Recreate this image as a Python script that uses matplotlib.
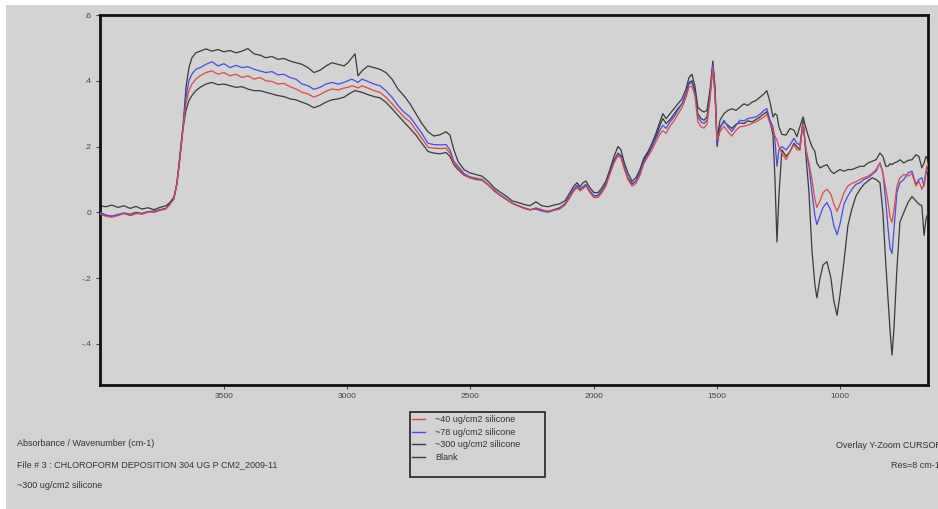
import matplotlib
matplotlib.use("Agg")
import matplotlib.pyplot as plt
from matplotlib.patches import Rectangle
from matplotlib.lines import Line2D

plt.rcParams['font.family'] = ['Liberation Sans', 'DejaVu Sans']

# ---------------- data ----------------
wavenumber = [
    4003, 3979, 3955, 3930, 3906, 3881, 3857, 3833, 3808, 3784, 3760, 3735,
    3719, 3703, 3691, 3679, 3666, 3654, 3642, 3630, 3614, 3597,
    3573, 3549, 3524, 3500, 3476, 3451, 3427, 3403, 3378, 3354, 3330, 3305, 3281, 3257, 3232, 3208, 3183, 3159, 3135, 3110, 3086, 3062, 3037,
    3013, 2997, 2981, 2968, 2956, 2940,
    2916, 2891, 2867, 2843, 2818, 2794, 2770, 2745, 2721, 2697, 2672, 2648, 2623, 2599,
    2583, 2567, 2550,
    2526, 2502, 2477, 2453, 2429, 2404, 2380, 2356, 2331, 2307, 2283, 2258, 2234, 2210, 2185, 2161, 2137,
    2116, 2096, 2080, 2067, 2055, 2043, 2031,
    2015, 1999, 1982, 1966, 1950, 1934, 1917, 1901,
    1889, 1877, 1861, 1844, 1828, 1812, 1796, 1779, 1763, 1747, 1731,
    1719, 1706, 1690, 1674, 1658, 1641, 1625, 1613, 1601, 1589, 1577, 1564, 1552, 1540, 1528, 1516, 1507, 1499,
    1487, 1471, 1455, 1439, 1422, 1406, 1390, 1374, 1357, 1341, 1325, 1309, 1297, 1284, 1272, 1264, 1256, 1248,
    1236, 1219, 1203, 1187, 1175, 1163, 1150, 1138, 1126, 1114, 1102, 1094, 1081, 1069, 1053, 1037, 1025, 1012, 1000, 984, 968,
    952, 935, 919, 903, 887, 870, 854, 838, 826, 814, 805, 797, 789, 781, 769, 757,
    741, 724, 708, 692, 680, 668, 659, 651, 643,
]

abs_40 = [
    -0.005, -0.012, -0.015, -0.010, -0.004, -0.008, -0.002, -0.006, 0.000, 0.003, 0.006, 0.010,
    0.025, 0.040, 0.085, 0.160, 0.255, 0.330, 0.370, 0.390, 0.405, 0.415,
    0.425, 0.430, 0.420, 0.425, 0.415, 0.420, 0.410, 0.415, 0.405, 0.410, 0.400, 0.398, 0.390, 0.392, 0.382, 0.375, 0.365, 0.360, 0.350, 0.358, 0.368, 0.375, 0.372,
    0.378, 0.380, 0.385, 0.382, 0.378, 0.385,
    0.378, 0.370, 0.365, 0.350, 0.330, 0.310, 0.290, 0.275, 0.250, 0.225, 0.198, 0.195, 0.194, 0.195,
    0.180, 0.150, 0.135,
    0.115, 0.105, 0.102, 0.100, 0.085, 0.065, 0.052, 0.040, 0.028, 0.020, 0.014, 0.006, 0.014, 0.008, 0.003, 0.006, 0.010,
    0.022, 0.045, 0.065, 0.075, 0.065, 0.072, 0.080,
    0.060, 0.045, 0.045, 0.060, 0.080, 0.115, 0.150, 0.172,
    0.165, 0.135, 0.100, 0.080, 0.088, 0.112, 0.148, 0.170, 0.190, 0.215, 0.238,
    0.248, 0.240, 0.262, 0.278, 0.298, 0.318, 0.350, 0.380, 0.384, 0.355, 0.275, 0.260, 0.256, 0.268, 0.340, 0.440, 0.350, 0.220,
    0.245, 0.262, 0.245, 0.232, 0.250, 0.260, 0.262, 0.265, 0.270, 0.275, 0.282, 0.290, 0.298, 0.270, 0.250, 0.232, 0.220, 0.200,
    0.180, 0.160, 0.185, 0.205, 0.190, 0.190, 0.270, 0.190, 0.150, 0.100, 0.040, 0.015, 0.035, 0.060, 0.070, 0.055, 0.025, 0.003, 0.025, 0.060, 0.080,
    0.088, 0.093, 0.100, 0.105, 0.110, 0.118, 0.130, 0.150, 0.120, 0.070, 0.030, -0.015, -0.030, 0.010, 0.080, 0.105,
    0.115, 0.110, 0.118, 0.080, 0.095, 0.070, 0.085, 0.130, 0.150,
]

abs_78 = [
    0.000, -0.008, -0.012, -0.006, -0.003, -0.010, -0.004, -0.003, 0.002, 0.000, 0.006, 0.012,
    0.025, 0.042, 0.090, 0.175, 0.270, 0.350, 0.400, 0.420, 0.435, 0.440,
    0.450, 0.458, 0.445, 0.452, 0.440, 0.447, 0.440, 0.443, 0.435, 0.430, 0.425, 0.428, 0.418, 0.420, 0.410, 0.405, 0.390, 0.385, 0.374, 0.380, 0.390, 0.395, 0.390,
    0.395, 0.400, 0.405, 0.400, 0.395, 0.405,
    0.398, 0.390, 0.385, 0.370, 0.350, 0.325, 0.305, 0.290, 0.265, 0.240, 0.210, 0.206, 0.205, 0.206,
    0.190, 0.155, 0.140,
    0.118, 0.108, 0.104, 0.100, 0.085, 0.068, 0.054, 0.042, 0.028, 0.020, 0.012, 0.008, 0.010, 0.004, 0.000, 0.006, 0.012,
    0.025, 0.050, 0.070, 0.082, 0.070, 0.078, 0.085,
    0.065, 0.050, 0.050, 0.065, 0.085, 0.120, 0.155, 0.178,
    0.170, 0.140, 0.105, 0.085, 0.095, 0.120, 0.155, 0.175, 0.200, 0.225, 0.250,
    0.265, 0.255, 0.275, 0.290, 0.310, 0.330, 0.360, 0.390, 0.395, 0.365, 0.290, 0.275, 0.270, 0.280, 0.350, 0.450, 0.360, 0.210,
    0.255, 0.280, 0.260, 0.246, 0.265, 0.280, 0.278, 0.285, 0.288, 0.290, 0.298, 0.310, 0.315, 0.280, 0.260, 0.220, 0.140, 0.190,
    0.200, 0.190, 0.205, 0.225, 0.210, 0.205, 0.275, 0.190, 0.140, 0.060, -0.010, -0.037, -0.010, 0.015, 0.030, 0.005, -0.040, -0.068, -0.035, 0.025, 0.050,
    0.070, 0.085, 0.090, 0.100, 0.105, 0.115, 0.125, 0.150, 0.120, 0.030, -0.050, -0.110, -0.125, -0.050, 0.060, 0.090,
    0.100, 0.120, 0.125, 0.085, 0.100, 0.105, 0.080, 0.120, 0.130,
]

abs_300 = [
    -0.003, -0.010, -0.012, -0.008, -0.002, -0.006, 0.000, -0.004, 0.002, 0.004, 0.008, 0.012,
    0.028, 0.045, 0.088, 0.165, 0.255, 0.310, 0.340, 0.355, 0.370, 0.380,
    0.390, 0.395, 0.388, 0.390, 0.385, 0.380, 0.382, 0.375, 0.370, 0.370, 0.365, 0.360, 0.355, 0.352, 0.345, 0.342, 0.335, 0.328, 0.318, 0.325, 0.335, 0.342, 0.345,
    0.350, 0.358, 0.365, 0.370, 0.368, 0.365,
    0.358, 0.352, 0.348, 0.335, 0.315, 0.295, 0.275, 0.255, 0.235, 0.210, 0.185, 0.180, 0.178, 0.182,
    0.170, 0.145, 0.130,
    0.113, 0.105, 0.100, 0.098, 0.084, 0.066, 0.052, 0.040, 0.028, 0.020, 0.014, 0.008, 0.012, 0.006, 0.003, 0.008, 0.014,
    0.026, 0.050, 0.070, 0.080, 0.070, 0.076, 0.082,
    0.064, 0.050, 0.052, 0.066, 0.086, 0.120, 0.158, 0.180,
    0.172, 0.140, 0.105, 0.088, 0.095, 0.120, 0.160, 0.180, 0.200, 0.230, 0.265,
    0.285, 0.270, 0.282, 0.298, 0.315, 0.330, 0.360, 0.395, 0.400, 0.370, 0.300, 0.285, 0.280, 0.290, 0.355, 0.450, 0.360, 0.200,
    0.260, 0.275, 0.265, 0.255, 0.268, 0.272, 0.270, 0.278, 0.275, 0.282, 0.290, 0.300, 0.306, 0.275, 0.235, 0.100, -0.090, 0.050,
    0.190, 0.170, 0.185, 0.210, 0.200, 0.190, 0.280, 0.170, 0.060, -0.115, -0.220, -0.260, -0.200, -0.160, -0.150, -0.200, -0.270, -0.313, -0.250, -0.150, -0.040,
    0.010, 0.050, 0.070, 0.085, 0.095, 0.105, 0.100, 0.090, 0.000, -0.160, -0.267, -0.360, -0.434, -0.350, -0.170, -0.030,
    0.000, 0.030, 0.048, 0.035, 0.025, 0.020, -0.070, -0.020, 0.000,
]

abs_blank = [
    0.020, 0.017, 0.022, 0.015, 0.020, 0.012, 0.018, 0.010, 0.014, 0.008, 0.015, 0.020,
    0.030, 0.045, 0.085, 0.165, 0.260, 0.380, 0.440, 0.470, 0.485, 0.490,
    0.497, 0.490, 0.495, 0.488, 0.492, 0.485, 0.490, 0.498, 0.482, 0.478, 0.470, 0.474, 0.465, 0.468, 0.460, 0.455, 0.450, 0.440, 0.425, 0.432, 0.445, 0.455, 0.450,
    0.445, 0.455, 0.470, 0.482, 0.415, 0.430,
    0.445, 0.440, 0.435, 0.425, 0.405, 0.375, 0.355, 0.330, 0.300, 0.270, 0.245, 0.232, 0.236, 0.245,
    0.235, 0.190, 0.155,
    0.130, 0.120, 0.115, 0.110, 0.095, 0.075, 0.062, 0.050, 0.035, 0.030, 0.024, 0.020, 0.032, 0.020, 0.017, 0.022, 0.026,
    0.035, 0.060, 0.080, 0.090, 0.078, 0.090, 0.095,
    0.075, 0.060, 0.060, 0.075, 0.095, 0.130, 0.170, 0.200,
    0.190, 0.155, 0.120, 0.095, 0.105, 0.130, 0.165, 0.185, 0.210, 0.240, 0.275,
    0.300, 0.285, 0.300, 0.315, 0.330, 0.345, 0.375, 0.410, 0.420, 0.385, 0.320, 0.310, 0.305, 0.310, 0.370, 0.460, 0.380, 0.220,
    0.280, 0.300, 0.310, 0.315, 0.310, 0.320, 0.330, 0.325, 0.335, 0.340, 0.350, 0.360, 0.370, 0.335, 0.290, 0.300, 0.295, 0.260,
    0.237, 0.235, 0.255, 0.250, 0.230, 0.260, 0.290, 0.255, 0.225, 0.200, 0.185, 0.150, 0.135, 0.140, 0.145, 0.125, 0.118, 0.125, 0.130, 0.125, 0.130,
    0.130, 0.135, 0.140, 0.140, 0.150, 0.155, 0.160, 0.180, 0.170, 0.140, 0.140, 0.148, 0.145, 0.150, 0.153, 0.160,
    0.150, 0.158, 0.160, 0.175, 0.170, 0.135, 0.150, 0.170, 0.160,
]

series_labels = ["~40 ug/cm2 silicone", "~78 ug/cm2 silicone",
                 "~300 ug/cm2 silicone", "Blank"]
series_colors = ["#e04848", "#4a4ae6", "#3a3a3a", "#3a3a3a"]

x_ticks = [3500, 3000, 2500, 2000, 1500, 1000]
x_ticklabels = ["3500", "3000", "2500", "2000", "1500", "1000"]
y_ticks = [-0.4, -0.2, 0.0, 0.2, 0.4, 0.6]
y_ticklabels = ["-.4", "-.2", "0", ".2", ".4", ".6"]

for s in (abs_40, abs_78, abs_300, abs_blank):
    assert len(s) == len(wavenumber), (len(s), len(wavenumber))

# ---------------- figure ----------------
W, H = 938, 509
fig = plt.figure(figsize=(W / 100, H / 100), dpi=100, facecolor="white")
GRAY = "#d3d3d3"

def fx(px):
    return px / W

def fy(py):
    return 1 - py / H

fig.patches.append(Rectangle((fx(6), 0), 1 - fx(6), fy(5), transform=fig.transFigure,
                             facecolor=GRAY, edgecolor="none", zorder=-10))

ax = fig.add_axes([fx(100), fy(385), fx(928) - fx(100), fy(15) - fy(385)])
ax.set_facecolor(GRAY)

ax.plot(wavenumber, abs_blank, color=series_colors[3], lw=0.9, zorder=2)
ax.plot(wavenumber, abs_300, color=series_colors[2], lw=0.9, zorder=3)
ax.plot(wavenumber, abs_78, color=series_colors[1], lw=0.9, zorder=4)
ax.plot(wavenumber, abs_40, color=series_colors[0], lw=0.9, zorder=5)

ax.set_xlim(4003, 643)
ax.set_ylim(-0.525, 0.6)
ax.set_xticks(x_ticks)
ax.set_xticklabels(x_ticklabels)
ax.set_yticks(y_ticks)
ax.set_yticklabels(y_ticklabels)
ax.tick_params(axis="both", direction="out", length=3, width=0.8, color="#444444",
               labelsize=6, labelcolor="#444444", pad=3)
for sp in ax.spines.values():
    sp.set_linewidth(2.0)
    sp.set_color("#111111")

# legend
handles = [Line2D([], [], color=c, lw=1.0) for c in series_colors] + [Line2D([], [], color="none")]
labels = series_labels + [" "]
fig.legend(handles, labels, loc="upper left", bbox_to_anchor=(fx(411.5), fy(415.5)),
           frameon=False, fontsize=6.5, handlelength=1.55, handletextpad=1.1,
           labelspacing=0.38, borderpad=0, borderaxespad=0, labelcolor="#333333")
fig.patches.append(Rectangle((fx(410), fy(477)), fx(545) - fx(410), fy(412) - fy(477),
                             transform=fig.transFigure, facecolor="none",
                             edgecolor="#222222", lw=1.2, zorder=5))

txt_kw = dict(fontsize=6.5, color="#333333", va="center", ha="left")
fig.text(fx(17), fy(444), "Absorbance / Wavenumber (cm-1)", **txt_kw)
fig.text(fx(17), fy(465), "File # 3 : CHLOROFORM DEPOSITION 304 UG P CM2_2009-11", **txt_kw)
fig.text(fx(17), fy(485), "~300 ug/cm2 silicone", **txt_kw)
fig.text(fx(836), fy(445), "Overlay Y-Zoom CURSOR", **txt_kw)
fig.text(fx(891), fy(466), "Res=8 cm-1", **txt_kw)

fig.savefig("out.png", dpi=100, facecolor=fig.get_facecolor())
